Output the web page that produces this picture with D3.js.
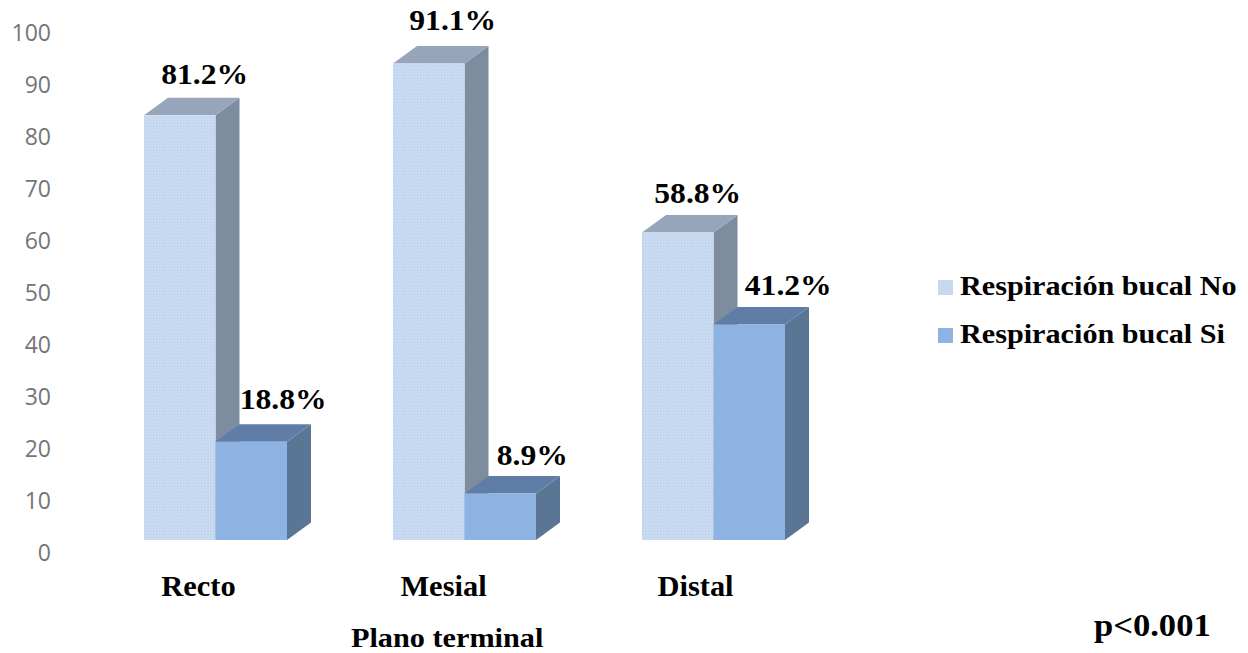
<!DOCTYPE html>
<html>
<head>
<meta charset="utf-8">
<title>Plano terminal</title>
<script src="https://cdn.jsdelivr.net/npm/d3@7"></script>
<style>
  html, body { margin: 0; padding: 0; background: #fff; }
  svg { display: block; }
  .serif { font-family: "Liberation Serif", serif; font-weight: bold; fill: #000; }
</style>
</head>
<body>
<div id="chart"></div>
<script>
// Values
let categories = ["Recto", "Mesial", "Distal"];
let seriesNames = ["Respiración bucal No", "Respiración bucal Si"];
let valuesNo = [81.2, 91.1, 58.8];
let valuesSi = [18.8, 8.9, 41.2];
let yTicks = [0, 10, 20, 30, 40, 50, 60, 70, 80, 90, 100];

// Hand placed label offsets, [dx, dy] from the top of each bar
let nudgeNo = [[25, -31], [24, -34], [20, -29]];
let nudgeSi = [[32, -33], [32, -28], [39, -30]];

// Set size
let w = 1248;
let h = 653;
let depthX = 24;
let depthY = 17.5;

let colors = [
  { front: "#c6d9f1", top: "#96a5b9", side: "#7d8c9e" },
  { front: "#8db3e2", top: "#5f7da6", side: "#5b7695" },
];

let data = [];
categories.forEach(function (c, i) {
  data.push({ category: c, series: 0, value: valuesNo[i], nudge: nudgeNo[i] });
  data.push({ category: c, series: 1, value: valuesSi[i], nudge: nudgeSi[i] });
});

// Widen the glyphs of a text selection by a factor
function stretch(selection, k) {
  selection.each(function () {
    this.setAttribute("lengthAdjust", "spacingAndGlyphs");
    this.setAttribute("textLength", this.getComputedTextLength() * k);
  });
}

let xScale = d3
  .scaleBand()
  .domain(categories)
  .range([91, 838])
  .paddingInner(0.4257)
  .paddingOuter(0.2128);

let seriesScale = d3
  .scaleBand()
  .domain([0, 1])
  .range([0, xScale.bandwidth()]);

let yScale = d3.scaleLinear().domain([0, 100]).range([540, 17]);

// The tick labels sit on the back wall, a little lower than the bars' front face
let tickScale = d3.scaleLinear().domain([0, 100]).range([553, 33]);

//Create SVG element
let svg = d3
  .select("#chart")
  .append("svg")
  .attr("width", w)
  .attr("height", h);

// Stippled fill of the light bars
let pattern = svg
  .append("defs")
  .append("pattern")
  .attr("id", "stipple")
  .attr("width", 3)
  .attr("height", 3)
  .attr("patternUnits", "userSpaceOnUse");
pattern
  .append("rect")
  .attr("width", 3)
  .attr("height", 3)
  .attr("fill", colors[0].front);
pattern
  .append("rect")
  .attr("width", 1)
  .attr("height", 1)
  .attr("fill", "#bcd1ec");
pattern
  .append("rect")
  .attr("x", 2)
  .attr("y", 1)
  .attr("width", 1)
  .attr("height", 1)
  .attr("fill", "#d0e0f4");

// Y axis
let yAxis = d3
  .axisLeft(tickScale)
  .tickValues(yTicks)
  .tickSize(0)
  .tickPadding(0);
let yAxisG = svg
  .append("g")
  .attr("class", "y axis")
  .attr("transform", "translate(51,0)")
  .call(yAxis);
yAxisG.select(".domain").remove();
yAxisG
  .selectAll("text")
  .attr("font-family", "Open Sans, sans-serif")
  .attr("font-size", "23px")
  .attr("fill", "#757575");

// X axis, labels pulled left of the group centres
let xAxis = d3.axisBottom(xScale).tickSize(0).tickPadding(0);
let xAxisG = svg
  .append("g")
  .attr("class", "x axis")
  .attr("transform", "translate(0,576)")
  .call(xAxis);
xAxisG.select(".domain").remove();
xAxisG
  .selectAll("text")
  .attr("class", "serif")
  .attr("font-size", "29px")
  .attr("font-family", null)
  .attr("dy", 0)
  .attr("y", 20)
  .attr("x", function (d, i) {
    return [-17, -21, -18][i];
  })
  .call(stretch, 1.05);

function barX(d) {
  return xScale(d.category) + seriesScale(d.series);
}

// Side faces first so the neighbouring bar's front covers them
let bars = svg
  .selectAll(".bar")
  .data(data)
  .enter()
  .append("g")
  .attr("class", "bar");

bars
  .append("path")
  .attr("fill", (d) => colors[d.series].side)
  .attr("d", function (d) {
    let x1 = barX(d) + seriesScale.bandwidth();
    let top = yScale(d.value);
    let base = yScale(0);
    return `M${x1},${top}l${depthX},${-depthY}L${x1 + depthX},${base - depthY}L${x1},${base}Z`;
  });

bars
  .append("path")
  .attr("fill", (d) => colors[d.series].top)
  .attr("d", function (d) {
    let x0 = barX(d);
    let bw = seriesScale.bandwidth();
    let top = yScale(d.value);
    return `M${x0},${top}l${depthX},${-depthY}h${bw}l${-depthX},${depthY}Z`;
  });

bars
  .append("rect")
  .attr("x", barX)
  .attr("y", (d) => yScale(d.value))
  .attr("width", seriesScale.bandwidth())
  .attr("height", (d) => yScale(0) - yScale(d.value))
  .attr("fill", (d) => (d.series === 0 ? "url(#stipple)" : colors[1].front));

//Create labels
svg
  .selectAll(".value")
  .data(data)
  .enter()
  .append("text")
  .attr("class", "value serif")
  .text((d) => d.value.toFixed(1) + "%")
  .attr("text-anchor", "middle")
  .attr("x", (d) => barX(d) + seriesScale.bandwidth() / 2 + d.nudge[0])
  .attr("y", (d) => yScale(d.value) + d.nudge[1])
  .attr("font-size", "29px")
  .call(stretch, 1.09);

// Legend
let legend = svg
  .selectAll(".legend")
  .data(seriesNames)
  .enter()
  .append("g")
  .attr("class", "legend")
  .attr("transform", (d, i) => `translate(938,${280 + i * 48})`);

legend
  .append("rect")
  .attr("width", 15)
  .attr("height", 15)
  .attr("fill", (d, i) => colors[i].front);

legend
  .append("text")
  .attr("class", "serif")
  .attr("x", 22)
  .attr("y", 15)
  .attr("font-size", "28px")
  .text((d) => d)
  .call(stretch, 1.078);

// Axis title and significance note
svg
  .append("text")
  .attr("class", "serif")
  .attr("x", 351)
  .attr("y", 647)
  .attr("font-size", "28px")
  .text("Plano terminal")
  .call(stretch, 1.08);

svg
  .append("text")
  .attr("class", "serif")
  .attr("x", 1094)
  .attr("y", 636)
  .attr("font-size", "31px")
  .text("p<0.001")
  .call(stretch, 1.115);
</script>
</body>
</html>
